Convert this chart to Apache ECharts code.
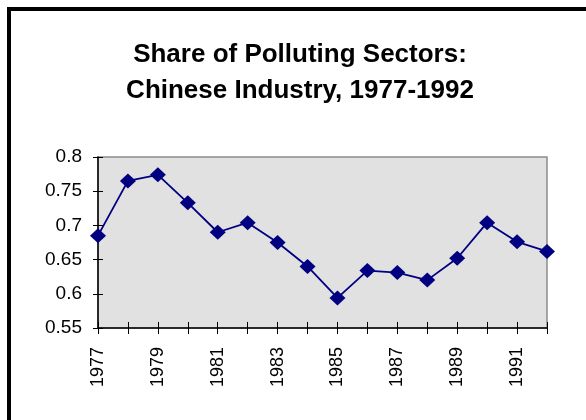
<!DOCTYPE html>
<html>
<head>
<meta charset="utf-8">
<script src="https://cdn.jsdelivr.net/npm/echarts@6/dist/echarts.min.js"></script>
<style>
  html, body { margin: 0; padding: 0; background: #fff; }
  #chart { width: 586px; height: 420px; }
</style>
</head>
<body>
<div id="chart"></div>
<script>
// Years on the category axis
const years = ['1977', '1978', '1979', '1980', '1981', '1982', '1983', '1984',
               '1985', '1986', '1987', '1988', '1989', '1990', '1991', '1992'];
// Share of polluting sectors in Chinese industrial output
const pollutingShare = [0.685, 0.765, 0.774, 0.733, 0.690, 0.704, 0.675, 0.640,
                        0.594, 0.634, 0.631, 0.620, 0.652, 0.704, 0.676, 0.662];
// Value axis range and step
const yMin = 0.55, yMax = 0.8, yStep = 0.05;

const titleText = 'Share of Polluting Sectors:\nChinese Industry, 1977-1992';
const fontFamily = '"Liberation Sans", Arial, sans-serif';

const chart = echarts.init(document.getElementById('chart'), null, { renderer: 'canvas' });

const fmt = v => String(parseFloat(v.toFixed(2)));

chart.setOption({
  animation: false,
  backgroundColor: '#ffffff',
  graphic: [
    {
      type: 'rect',
      shape: { x: 9, y: 9, width: 700, height: 600 },
      style: { fill: 'none', stroke: '#000', lineWidth: 4 },
      z: 10
    },
    {
      type: 'text',
      x: 300, y: 37,
      style: {
        text: titleText,
        fill: '#000',
        font: 'bold 26px ' + fontFamily,
        lineHeight: 36,
        align: 'center',
        verticalAlign: 'top'
      }
    }
  ],
  grid: {
    left: 98, right: 39, top: 157, bottom: 92,
    show: true,
    backgroundColor: '#e1e1e1',
    borderColor: '#8c8c8c',
    borderWidth: 1.5
  },
  xAxis: [
    {
      type: 'category',
      data: years,
      boundaryGap: false,
      axisLine: { show: true, lineStyle: { color: '#000', width: 1.5 } },
      axisTick: { show: true, interval: 0, length: 6, inside: false, lineStyle: { color: '#000', width: 1 } },
      axisLabel: {
        interval: 1, rotate: 90, margin: 19,
        color: '#000', fontSize: 18, fontFamily: fontFamily
      },
      splitLine: { show: false }
    },
    {
      // inward half of the cross-style category ticks
      type: 'category',
      data: years,
      position: 'bottom',
      boundaryGap: false,
      axisLine: { show: false },
      axisTick: { show: true, interval: 0, length: 6, inside: true, lineStyle: { color: '#000', width: 1 } },
      axisLabel: { show: false },
      splitLine: { show: false }
    }
  ],
  yAxis: [
    {
      type: 'value',
      min: yMin, max: yMax, interval: yStep,
      axisLine: { show: true, lineStyle: { color: '#000', width: 1.5 } },
      axisTick: { show: true, length: 5, inside: false, lineStyle: { color: '#000', width: 1 } },
      axisLabel: {
        margin: 16, color: '#000', fontSize: 19, fontFamily: fontFamily,
        formatter: fmt
      },
      splitLine: { show: false }
    },
    {
      // inward half of the cross-style value ticks
      type: 'value',
      position: 'left',
      min: yMin, max: yMax, interval: yStep,
      axisLine: { show: false },
      axisTick: { show: true, length: 5, inside: true, lineStyle: { color: '#000', width: 1 } },
      axisLabel: { show: false },
      splitLine: { show: false }
    }
  ],
  series: [
    {
      type: 'line',
      data: pollutingShare,
      xAxisIndex: 0,
      yAxisIndex: 0,
      symbol: 'diamond',
      symbolSize: [16, 15],
      lineStyle: { color: '#000080', width: 1.8 },
      itemStyle: { color: '#000080' },
      z: 5
    }
  ]
});
</script>
</body>
</html>
